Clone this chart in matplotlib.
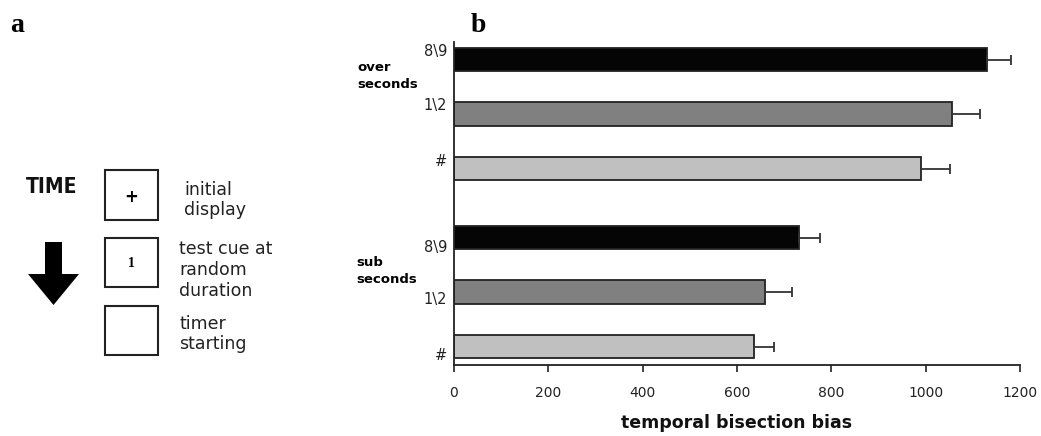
import matplotlib
matplotlib.use("Agg")
import matplotlib.pyplot as plt
import matplotlib.transforms as mtransforms
from matplotlib.patches import Rectangle, FancyArrow

# ---------------- data ----------------
categories = ["#", "1\\2", "8\\9", "#", "1\\2", "8\\9"]
groups = ["sub\nseconds", "over\nseconds"]
sub_values = [635, 659, 731]       # #, 1\2, 8\9
sub_errors = [44, 58, 46]
over_values = [991, 1056, 1131]
over_errors = [60, 60, 50]
bar_colors = ["#c0c0c0", "#808080", "#050505"]
xticks = [0, 200, 400, 600, 800, 1000, 1200]
xlabel = "temporal bisection bias"

W, H = 1041, 436
fig = plt.figure(figsize=(W / 100, H / 100), dpi=100)

# ---------------- panel a (schematic) ----------------
axa = fig.add_axes([0, 0, 1, 1])
axa.set_xlim(0, W)
axa.set_ylim(H, 0)
axa.axis("off")

fig.text(10 / W, 1 - 32.5 / H, "a", fontsize=20, fontweight="bold",
         family="Liberation Serif", va="baseline", ha="left")
fig.text(471 / W, 1 - 32.5 / H, "b", fontsize=20, fontweight="bold",
         family="Liberation Serif", va="baseline", ha="left")

axa.text(52, 187, "TIME", fontsize=15, fontweight="bold", ha="center",
         va="center", family="DejaVu Sans", fontstretch="condensed",
         color="#111111")
axa.add_patch(FancyArrow(53.5, 242, 0, 63, width=17, head_width=51,
                         head_length=31, length_includes_head=True,
                         color="black", lw=0))

for (y0, y1) in [(170, 219.5), (237.5, 286.5), (306, 355)]:
    axa.add_patch(Rectangle((105, y0), 53, y1 - y0, fill=False,
                            edgecolor="#222222", lw=1.5))
axa.text(131.5, 197, "+", fontsize=12, fontweight="bold", ha="center", va="center")
axa.text(131, 263, "1", fontsize=10, ha="center", va="center",
         family="Liberation Serif", fontweight="bold")

txt_kw = dict(fontsize=12.5, ha="left", va="center", color="#222222",
              family="DejaVu Sans", linespacing=1.2)
axa.text(184, 200, "initial\ndisplay", **txt_kw)
axa.text(179, 270, "test cue at\nrandom\nduration", **txt_kw)
axa.text(179, 334, "timer\nstarting", **txt_kw)

# ---------------- panel b (bar chart) ----------------
ax = fig.add_axes([454 / W, 1 - 365 / H, (1020 - 454) / W, (365 - 41.7) / H])
pos_sub = [0, 1, 2]
pos_over = [3.26, 4.26, 5.26]

ax.barh(pos_sub, sub_values, height=0.43, color=bar_colors,
        edgecolor="#222222", linewidth=1.3, zorder=2)
ax.barh(pos_over, over_values, height=0.43, color=bar_colors,
        edgecolor="#222222", linewidth=1.3, zorder=2)
ax.errorbar(sub_values, pos_sub, xerr=[[0] * 3, sub_errors], fmt="none",
            ecolor="#333333", elinewidth=1.3, capsize=3.5, capthick=1.3, zorder=3)
ax.errorbar(over_values, pos_over, xerr=[[0] * 3, over_errors], fmt="none",
            ecolor="#333333", elinewidth=1.3, capsize=3.5, capthick=1.3, zorder=3)

ax.set_xlim(0, 1200)
ax.set_ylim(-0.335, 5.586)
ax.set_xticks(xticks)
ax.set_xticklabels([str(t) for t in xticks], fontsize=10, color="#222222")
ax.set_yticks(pos_sub + pos_over)
ax.set_yticklabels(categories, fontsize=10.5, color="#222222")
ax.tick_params(axis="y", length=0, pad=5)
ax.tick_params(axis="x", length=5, width=1.2, pad=10, direction="out", color="#222222")
for s in ["top", "right"]:
    ax.spines[s].set_visible(False)
for s in ["left", "bottom"]:
    ax.spines[s].set_linewidth(1.3)
    ax.spines[s].set_color("#222222")

# small offsets of category labels as in the reference
offs = [-5, -4, -6, 6, 7, 7]
for lab, o in zip(ax.get_yticklabels(), offs):
    lab.set_transform(lab.get_transform() +
                      mtransforms.ScaledTranslation(0, o / 72, fig.dpi_scale_trans))

ax.set_xlabel(xlabel, fontsize=12.5, fontweight="bold", family="DejaVu Sans",
              labelpad=10, color="#111111")

fig.text(357 / W, 1 - 76 / H, groups[1], fontsize=9.5, fontweight="bold",
         ha="left", va="center", linespacing=1.45, family="DejaVu Sans")
fig.text(356 / W, 1 - 271 / H, groups[0], fontsize=9.5, fontweight="bold",
         ha="left", va="center", linespacing=1.45, family="DejaVu Sans")

fig.savefig("out.png", dpi=100)
